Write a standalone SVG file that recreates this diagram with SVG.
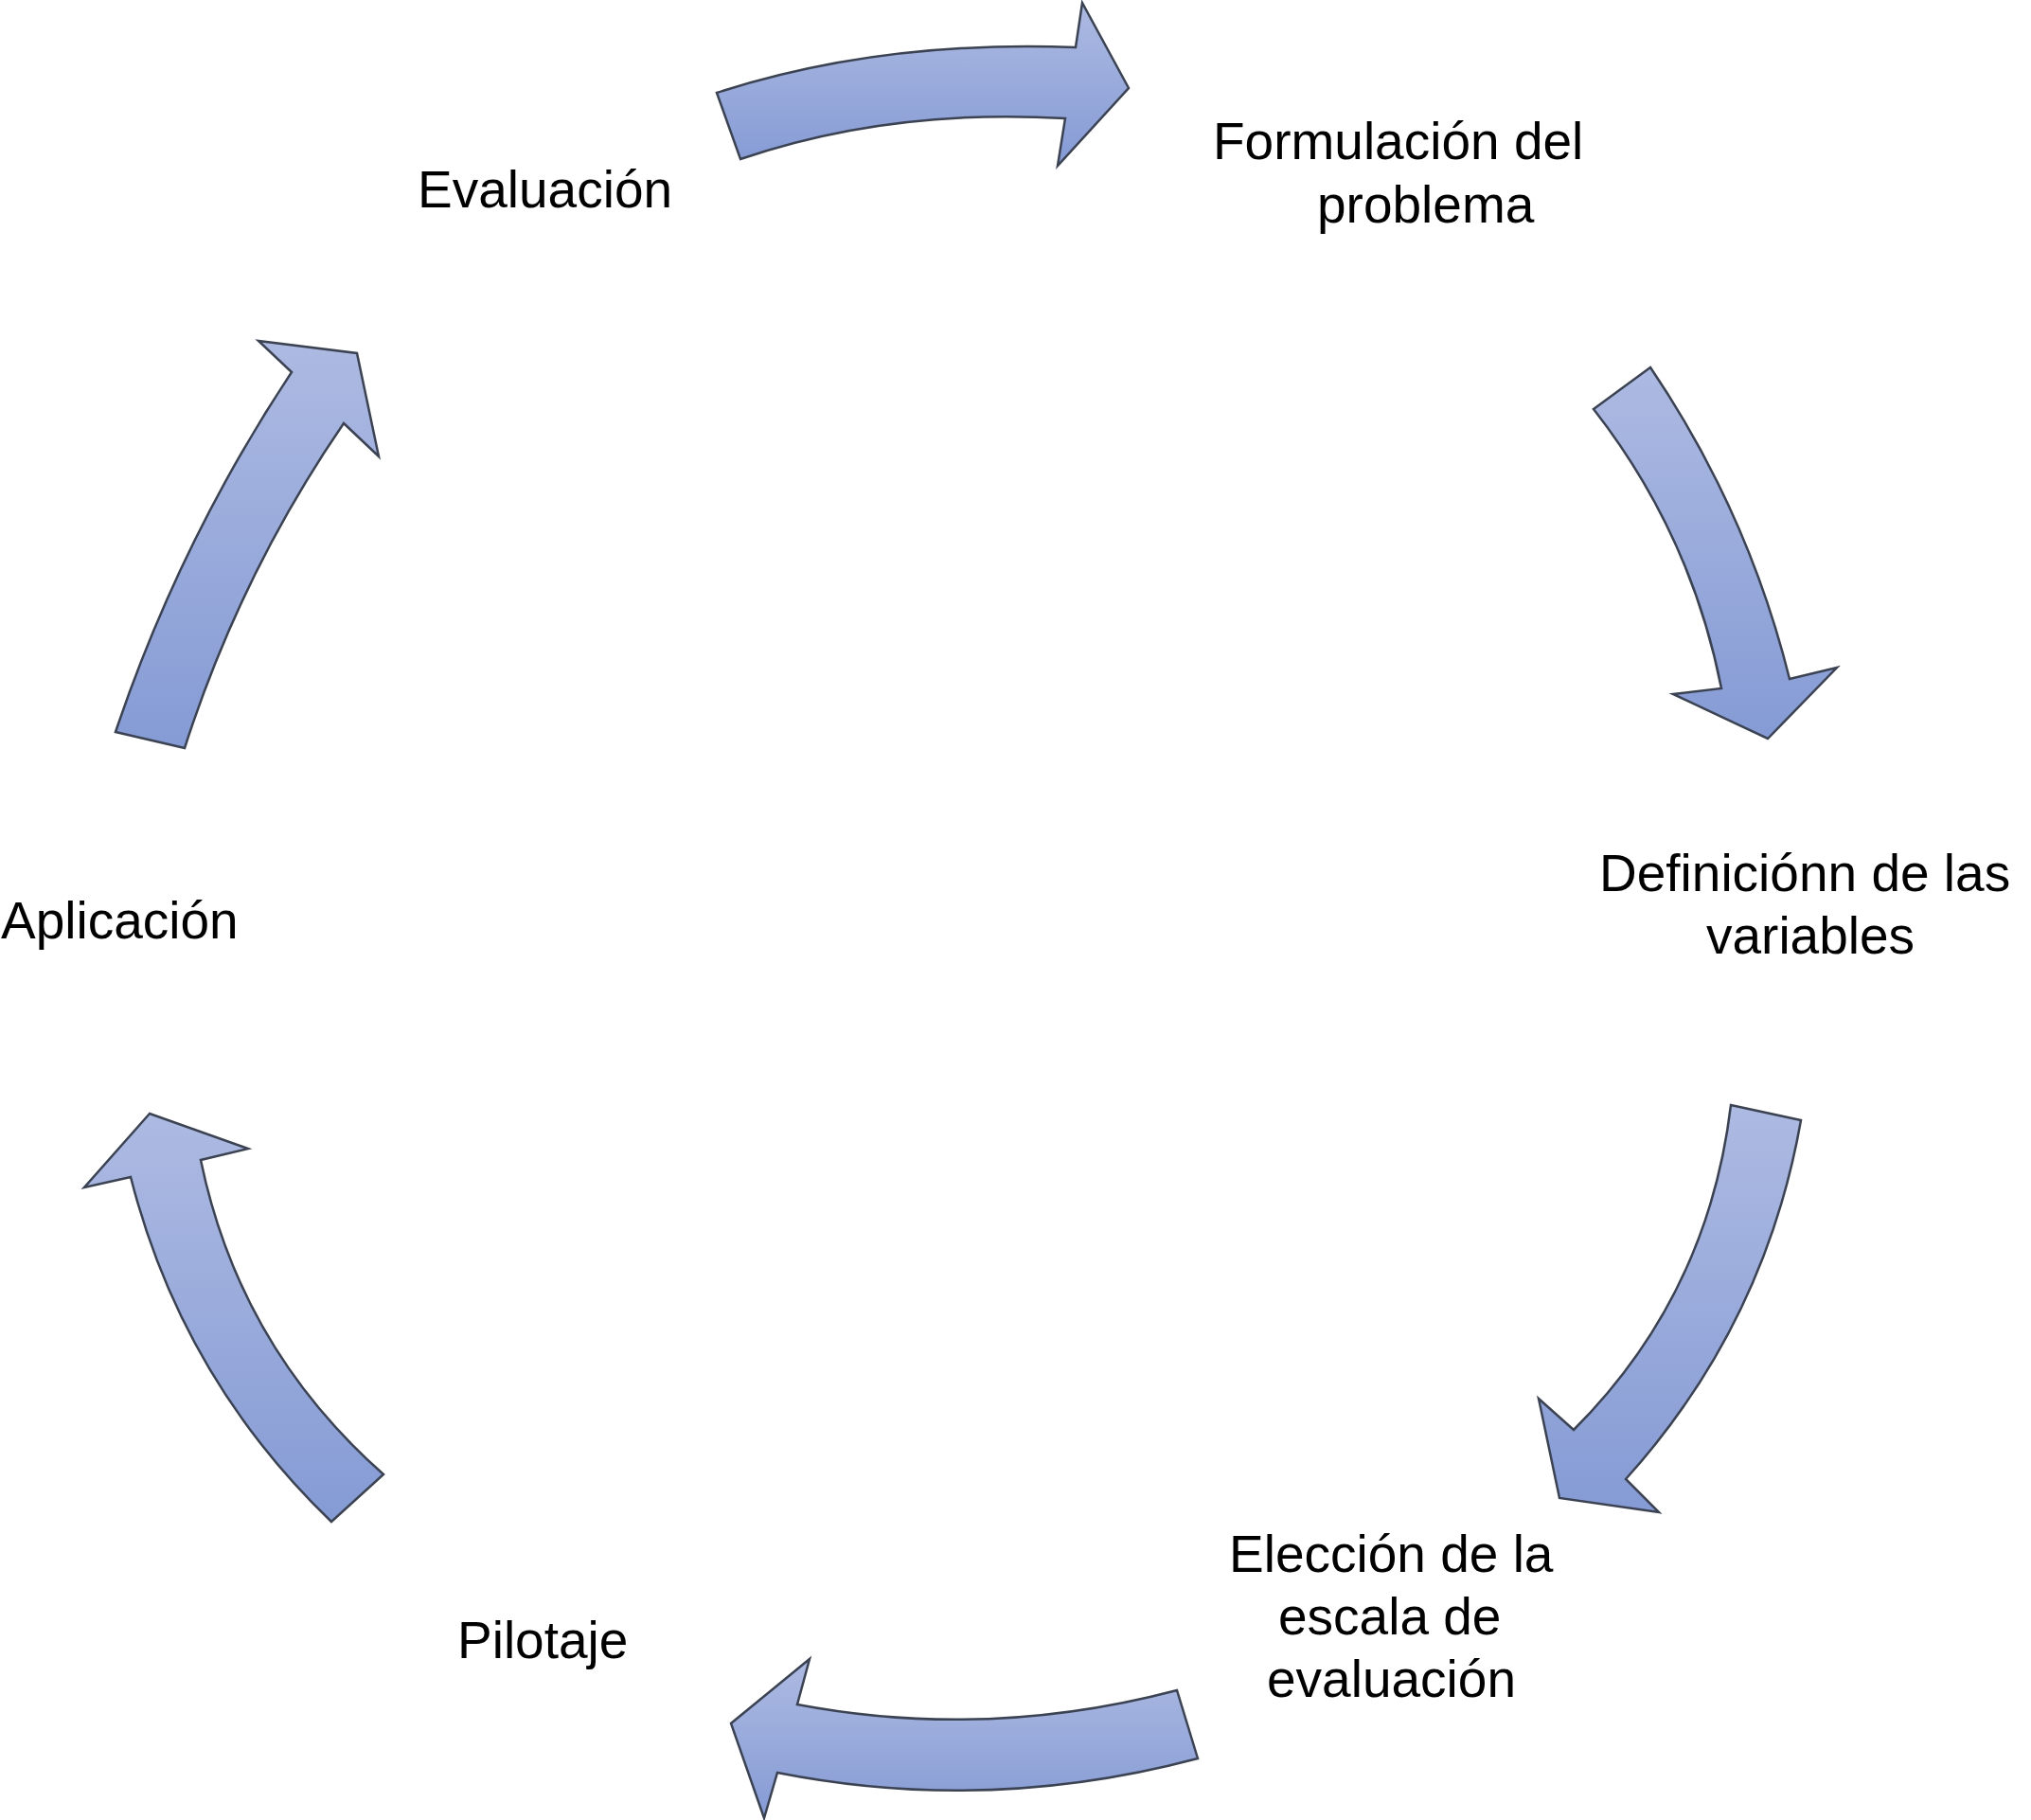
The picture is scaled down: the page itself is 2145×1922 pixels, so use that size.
<svg xmlns="http://www.w3.org/2000/svg" width="2145" height="1922" viewBox="0 0 2145 1922">
  <style>
    .lbl { font-family: "Liberation Sans", Arial, Helvetica, sans-serif; font-size: 55px; fill: #000000; }
    .arrow { fill: url(#grad); stroke: #3b4252; stroke-width: 2.5; stroke-linejoin: miter; }
  </style>
  <defs>
    <linearGradient id="grad" x1="0" y1="0" x2="0" y2="1">
      <stop offset="0" stop-color="#adbae2"/>
      <stop offset="1" stop-color="#859bd5"/>
    </linearGradient>
  </defs>
  <rect width="2145" height="1922" fill="#ffffff"/>
  <g id="connectors">
    <path class="arrow" d="M757,98 Q930,42 1136,50 L1143,3 L1192,93 L1117,175 L1125,125 Q940,114 782,168 Z"/>
    <path class="arrow" d="M1683,432 L1743,388 Q1846,540 1890,717 L1940,705 L1867,780 L1767,733 L1818,727 Q1786,564 1683,432 Z"/>
    <path class="arrow" d="M1828,1167 L1902,1183 Q1864,1399 1717,1562 L1752,1597 L1647,1582 L1625,1477 L1662,1510 Q1804,1368 1828,1167 Z"/>
    <path class="arrow" d="M1243,1785 Q1042,1838 842,1800 L855,1752 L772,1820 L807,1920 L821,1872 Q1043,1916 1265,1857 Z"/>
    <path class="arrow" d="M158,1176 L89,1254 L138,1243 Q192,1455 350,1607 L405,1557 Q253,1423 212,1225 L262,1213 Z"/>
    <path class="arrow" d="M122,773 L195,790 Q254,606 363,447 L400,482 L377,373 L273,360 L308,393 Q190,571 122,773 Z"/>
  </g>
  <g id="node-formulacion">
    <text class="lbl" x="1281" y="168">Formulación del</text>
    <text class="lbl" x="1391" y="235">problema</text>
  </g>
  <g id="node-definicion">
    <text class="lbl" x="1689" y="941">Definiciónn de las</text>
    <text class="lbl" x="1802" y="1007">variables</text>
  </g>
  <g id="node-eleccion">
    <text class="lbl" x="1298" y="1660">Elección de la</text>
    <text class="lbl" x="1350" y="1726">escala de</text>
    <text class="lbl" x="1338" y="1792">evaluación</text>
  </g>
  <g id="node-pilotaje">
    <text class="lbl" x="483" y="1751">Pilotaje</text>
  </g>
  <g id="node-aplicacion">
    <text class="lbl" x="1" y="991">Aplicación</text>
  </g>
  <g id="node-evaluacion">
    <text class="lbl" x="441" y="219">Evaluación</text>
  </g>
</svg>
